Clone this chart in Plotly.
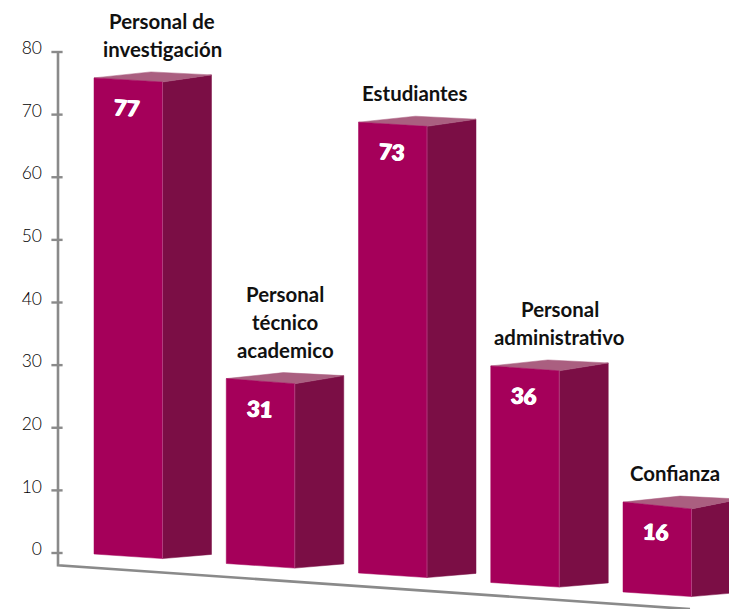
import plotly.graph_objects as go

# ---- data ----
categories = ["Personal de<br>investigación", "Personal<br>técnico<br>academico", "Estudiantes",
              "Personal<br>administrativo", "Confianza"]
values = [77, 31, 73, 36, 16]
tick_values = [0, 10, 20, 30, 40, 50, 60, 70, 80]
label_nudge = [11, 2, -1, 12, -5.5]

# ---- look ----
FRONT, SIDE, TOP = "#A5005A", "#7B0E45", "#AA5F80"
EDGE = "#B8508A"
AXIS = "#8A8A8A"
FONT = "Lato"

# ---- pseudo-perspective projection (pixels per axis unit, slant of the floor) ----
W, H = 729, 609
LEFT = 46
PX = 6.2625
ZERO_PX = 553
Y_MAX = ZERO_PX / PX
Y_MIN = (ZERO_PX - H) / PX
FIRST_X, STEP = 94, 132.25
FRONT_W, DEPTH_W, PEAK_X = 68.5, 117.5, 57
SLOPE = 0.0718


def floor_y(x):
    return (ZERO_PX - 554 - SLOPE * (x - FIRST_X)) / PX


def poly(xs, ys, color, name):
    return go.Scatter(x=xs + xs[:1], y=ys + ys[:1], mode="lines", fill="toself", fillcolor=color,
                      line=dict(color=color, width=0.5), hoverinfo="skip", showlegend=False, name=name)


fig = go.Figure()

for i, (cat, v) in enumerate(zip(categories, values)):
    x0 = FIRST_X + i * STEP
    x1, x2, xp = x0 + FRONT_W, x0 + DEPTH_W, x0 + PEAK_X
    b0 = floor_y(x0)
    t0 = b0 + (v - 1.8) * 1.011
    h_px = (t0 - b0) * PX
    dip = (3.5 + 300 / h_px) / PX
    back = 3 / PX
    peak = 6 / PX
    low = 4.6 / PX
    fig.add_trace(poly([x1, x2, x2, x1], [b0 - low, b0 + back - low + 1.2 / PX, t0 + back, t0 - dip], SIDE, "side"))
    fig.add_trace(poly([x0, xp, x2, x1], [t0, t0 + peak, t0 + back, t0 - dip], TOP, "top"))
    fig.add_trace(poly([x0, x1, x1, x0], [b0, b0 - low, t0 - dip, t0], FRONT, "front"))
    fig.add_trace(go.Scatter(x=[x1, x1], y=[b0 - low, t0 - dip], mode="lines",
                             line=dict(color=EDGE, width=0.7), hoverinfo="skip", showlegend=False))
    fig.add_annotation(x=(x0 + x1) / 2 - 1, y=t0, yshift=-29.5, text=str(v), showarrow=False, yanchor="middle",
                       textangle=3, font=dict(family=FONT, size=22, color="white", weight=900,
                                              shadow="0.6px 0 0 white, -0.6px 0 0 white, 0 0.4px 0 white"))
    lines = cat.split("<br>")
    for j, line in enumerate(lines):
        fig.add_annotation(x=xp, y=t0 + peak, xshift=label_nudge[i],
                           yshift=23 + 28 * (len(lines) - 1 - j), text=line, showarrow=False,
                           yanchor="middle", font=dict(family=FONT, size=20.4, color="#111111", weight=700))

# axis lines and tick marks
axis_bottom = -1.95
fig.add_trace(go.Scatter(x=[58, 58, 690], y=[tick_values[-1], axis_bottom, axis_bottom - 0.0695 * 632 / PX],
                         mode="lines", line=dict(color=AXIS, width=2.6), hoverinfo="skip", showlegend=False))
fig.add_trace(go.Scatter(x=[57] * len(tick_values), y=tick_values, mode="markers", hoverinfo="skip", showlegend=False,
                         marker=dict(symbol="line-ew", size=8, line=dict(color=AXIS, width=2.4))))

fig.update_layout(
    width=W, height=H, margin=dict(l=LEFT, r=0, t=0, b=0),
    paper_bgcolor="white", plot_bgcolor="white", showlegend=False,
    xaxis=dict(range=[LEFT, W], visible=False),
    yaxis=dict(range=[Y_MIN, Y_MAX], tickmode="array", tickvals=tick_values, ticks="", showgrid=False,
               zeroline=False, showline=False, ticklabelshift=-4, ticklabelstandoff=3,
               tickfont=dict(family=FONT, size=17.5, color="#000000", weight=300)),
)

fig.write_html("out.html", config={"displayModeBar": False},
               post_script="document.body.style.margin='0';document.documentElement.style.overflow='hidden';")
